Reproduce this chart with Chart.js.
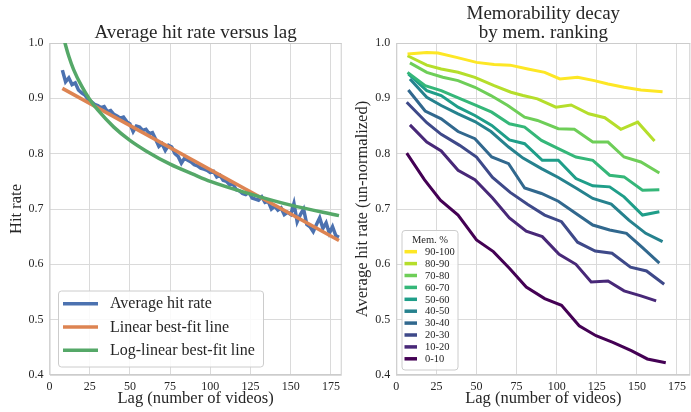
<!DOCTYPE html>
<html><head><meta charset="utf-8">
<script src="https://cdn.jsdelivr.net/npm/chart.js@4.4.0/dist/chart.umd.min.js"></script>
<style>
html,body{margin:0;padding:0;background:#fff;width:691px;height:412px;overflow:hidden}
#c1{position:absolute;left:0;top:0;width:345px;height:412px}
#c2{position:absolute;left:345px;top:0;width:346px;height:412px}
</style></head><body>
<canvas id="c1" width="345" height="412"></canvas>
<canvas id="c2" width="346" height="412"></canvas>
<script>
// ---------- data: left panel ----------
const hitLags = [8,10,12,14,16,18,20,22,24,26,28,30,32,34,36,38,40,42,44,46,48,50,52,54,56,58,60,62,64,66,68,70,72,74,76,78,80,82,84,86,88,90,92,94,96,98,100,102,104,106,108,110,112,114,116,118,120,122,124,126,128,130,132,134,136,138,140,142,144,146,148,150,152,154,156,158,160,162,164,166,168,170,172,174,176,178,180];
const hitRates = [0.951,0.930,0.937,0.925,0.928,0.915,0.910,0.906,0.898,0.894,0.889,0.887,0.883,0.885,0.876,0.878,0.871,0.868,0.864,0.866,0.858,0.854,0.840,0.850,0.848,0.842,0.844,0.836,0.838,0.826,0.813,0.818,0.806,0.815,0.812,0.800,0.795,0.783,0.792,0.788,0.785,0.780,0.778,0.774,0.772,0.770,0.766,0.768,0.758,0.761,0.752,0.750,0.744,0.746,0.735,0.733,0.728,0.726,0.730,0.720,0.718,0.716,0.722,0.712,0.714,0.700,0.705,0.698,0.702,0.690,0.694,0.690,0.710,0.677,0.690,0.700,0.672,0.668,0.659,0.672,0.684,0.665,0.675,0.656,0.668,0.652,0.649];
const linLags = [8, 180];
const linRates = [0.918, 0.643];
const logLags = [8,10,12,15,20,25,30,40,50,60,75,90,100,125,150,180];
const logRates = [1.019,0.996,0.976,0.952,0.922,0.898,0.879,0.848,0.824,0.805,0.781,0.762,0.750,0.727,0.707,0.688];
const leftSeriesNames = ['Average hit rate','Linear best-fit line','Log-linear best-fit line'];

// ---------- data: right panel ----------
const groups = ['0-10','10-20','20-30','30-40','40-50','50-60','60-70','70-80','80-90','90-100'];
const lag0_10   = [6.5,17.5,27.5,38.5,50,60.5,70.5,81,92.5,103,114,124.5,135,146.5,156.5,168];
const hr0_10    = [0.801,0.753,0.716,0.689,0.644,0.623,0.593,0.559,0.538,0.526,0.489,0.471,0.459,0.444,0.429,0.422];
const lag10_20  = [8.5,19,28,38.5,49,60,70.5,81,91,101.5,112,121.5,132,142,152.5,162];
const hr10_20   = [0.852,0.821,0.805,0.770,0.753,0.720,0.684,0.660,0.650,0.618,0.600,0.568,0.570,0.552,0.543,0.534];
const lag20_30  = [6.5,19,28,39.5,50,60,71,82,92.5,103,113,124,134.5,146,156,167];
const hr20_30   = [0.893,0.856,0.835,0.815,0.794,0.757,0.730,0.708,0.689,0.677,0.640,0.624,0.620,0.595,0.588,0.564];
const lag30_40  = [7.5,18,28,38.5,49,59.5,70,80,90.5,101,112,122.5,133,143.5,153.5,164];
const hr30_40   = [0.915,0.877,0.863,0.840,0.827,0.794,0.782,0.738,0.728,0.714,0.692,0.671,0.662,0.656,0.630,0.602];
const lag40_50  = [8.5,19,28,38.5,49,59,70,79,90.5,101,112,122.5,134,145,155.5,166];
const hr40_50   = [0.935,0.902,0.887,0.872,0.858,0.840,0.812,0.792,0.773,0.757,0.738,0.719,0.709,0.680,0.656,0.641];
const lag50_60  = [7.5,19,28,38.5,49,59.5,70.5,80,91,101,112,122.5,133,142,153.5,164];
const hr50_60   = [0.944,0.914,0.905,0.884,0.869,0.851,0.825,0.818,0.788,0.788,0.755,0.742,0.740,0.722,0.689,0.695];
const lag60_70  = [7,18,28,37.5,49,59.5,70.5,80,90.5,101,112,122.5,133,142,153.5,164];
const hr60_70   = [0.947,0.923,0.914,0.902,0.888,0.875,0.854,0.848,0.824,0.809,0.794,0.788,0.761,0.758,0.734,0.735];
const lag70_80  = [8.5,19,29,38.5,49,59,69.5,80,88,101,111,122.5,132,142,152.5,164];
const hr70_80   = [0.964,0.947,0.938,0.932,0.920,0.905,0.887,0.866,0.860,0.845,0.844,0.821,0.821,0.794,0.785,0.765];
const lag80_90  = [7,19,28,38.5,49,61,71.5,79,88,99.5,109,120,130,140,150.5,161];
const hr80_90   = [0.977,0.960,0.953,0.947,0.938,0.923,0.911,0.905,0.899,0.884,0.888,0.872,0.865,0.844,0.857,0.823];
const lag90_100 = [7,19,26,37.5,50,61,71,82,92.5,102,113,123.5,132,142,152.5,166];
const hr90_100  = [0.980,0.983,0.982,0.974,0.965,0.961,0.960,0.953,0.947,0.935,0.938,0.932,0.926,0.920,0.915,0.912];
const groupLags  = [lag0_10,lag10_20,lag20_30,lag30_40,lag40_50,lag50_60,lag60_70,lag70_80,lag80_90,lag90_100];
const groupRates = [hr0_10,hr10_20,hr20_30,hr30_40,hr40_50,hr50_60,hr60_70,hr70_80,hr80_90,hr90_100];

// ---------- ticks & titles ----------
const xTicks = [0,25,50,75,100,125,150,175];
const yTicks = [0.4,0.5,0.6,0.7,0.8,0.9,1.0];
const leftTitle = ['Average hit rate versus lag'];
const rightTitle = ['Memorability decay','by mem. ranking'];

// ---------- style ----------
const FONT = "'Liberation Serif','Times New Roman',serif";
const TXT = '#262626';
const GRID = '#dadada';
const leftColors = ['#4C72B0','#DD8452','#55A868'];
const viridis = ['#440154','#482878','#3e4989','#31688e','#26828e','#1f9e89','#35b779','#6ece58','#b5de2b','#fde725'];

function pts(xs, ys){ return xs.map((x,i)=>({x:x, y:ys[i]})); }

function roundRect(ctx,x,y,w,h,r){
  ctx.beginPath();
  ctx.moveTo(x+r,y); ctx.lineTo(x+w-r,y); ctx.quadraticCurveTo(x+w,y,x+w,y+r);
  ctx.lineTo(x+w,y+h-r); ctx.quadraticCurveTo(x+w,y+h,x+w-r,y+h);
  ctx.lineTo(x+r,y+h); ctx.quadraticCurveTo(x,y+h,x,y+h-r);
  ctx.lineTo(x,y+r); ctx.quadraticCurveTo(x,y,x+r,y); ctx.closePath();
}

const frame = {
  id:'frame',
  beforeDatasetsDraw(chart){
    const a = chart.chartArea, ctx = chart.ctx;
    ctx.save(); ctx.strokeStyle = '#cccccc'; ctx.lineWidth = 1;
    ctx.strokeRect(a.left+0.5, a.top+0.5, a.right-a.left-1, a.bottom-a.top-1);
    ctx.restore();
  }
};

// title centred over the plotting area (as matplotlib does)
const areaTitle = {
  id:'areaTitle',
  afterDraw(chart, args, o){
    if(!o || !o.lines) return;
    const a = chart.chartArea, ctx = chart.ctx;
    ctx.save();
    ctx.font = o.size + 'px ' + FONT; ctx.fillStyle = TXT;
    ctx.textAlign = 'center'; ctx.textBaseline = 'middle';
    o.lines.forEach((t,i)=> ctx.fillText(t, (a.left+a.right)/2, o.y0 + i*o.dy));
    ctx.restore();
  }
};

const boxLegend = {
  id:'boxLegend',
  afterDatasetsDraw(chart, args, o){
    if(!o || !o.show) return;
    const ctx = chart.ctx;
    ctx.save();
    roundRect(ctx,o.x,o.y,o.w,o.h,3);
    ctx.fillStyle='rgba(255,255,255,0.85)'; ctx.fill();
    ctx.strokeStyle='#cccccc'; ctx.lineWidth=1; ctx.stroke();
    ctx.textBaseline='middle';
    if(o.title){
      ctx.font = o.fontSize + 'px ' + FONT; ctx.fillStyle = TXT; ctx.textAlign='center';
      ctx.fillText(o.title, o.x + o.w/2, o.titleY);
    }
    ctx.textAlign='left';
    o.order.forEach((di,i)=>{
      const ds = chart.data.datasets[di];
      const y = o.rowY + i*o.rowH;
      ctx.strokeStyle = ds.borderColor; ctx.lineWidth = o.lw; ctx.lineCap='butt';
      ctx.beginPath(); ctx.moveTo(o.sx0,y); ctx.lineTo(o.sx1,y); ctx.stroke();
      ctx.fillStyle = TXT; ctx.font = o.fontSize + 'px ' + FONT;
      ctx.fillText(ds.label, o.tx, y+0.5);
    });
    ctx.restore();
  }
};

function scales(xmax, yTitle, yWidth, yTitlePad){
  return {
    x:{
      type:'linear', min:0, max:xmax,
      afterBuildTicks: s => { s.ticks = xTicks.map(v=>({value:v})); },
      ticks:{ font:{family:FONT,size:12}, color:TXT, padding:5, maxRotation:0, autoSkip:false, callback:v=>String(v) },
      grid:{ color:GRID, lineWidth:1, drawTicks:false },
      border:{ display:false },
      title:{ display:true, text:'Lag (number of videos)', font:{family:FONT,size:16.5}, color:TXT, padding:{top:2,bottom:3} },
      afterFit: s => { s.height = 37; }
    },
    y:{
      type:'linear', min:0.4, max:1.0,
      afterBuildTicks: s => { s.ticks = yTicks.map(v=>({value:v})); },
      ticks:{ font:{family:FONT,size:12}, color:TXT, padding:6, callback:v=>v.toFixed(1) },
      grid:{ color:GRID, lineWidth:1, drawTicks:false },
      border:{ display:false },
      title:{ display:true, text:yTitle, font:{family:FONT,size:16.5}, color:TXT, padding:{top:yTitlePad,bottom:0} },
      afterFit: s => { s.width = yWidth; }
    }
  };
}

Chart.defaults.font.family = FONT;

// ---------- left chart ----------
new Chart(document.getElementById('c1'), {
  type:'line',
  data:{ datasets:[
    { label:leftSeriesNames[0], data:pts(hitLags,hitRates), borderColor:leftColors[0], borderWidth:3.5, pointRadius:0, tension:0, order:3 },
    { label:leftSeriesNames[1], data:pts(linLags,linRates), borderColor:leftColors[1], borderWidth:3.5, pointRadius:0, tension:0, order:2 },
    { label:leftSeriesNames[2], data:pts(logLags,logRates), borderColor:leftColors[2], borderWidth:3.5, pointRadius:0, tension:0.4, cubicInterpolationMode:'monotone', order:1 }
  ]},
  options:{
    responsive:false, animation:false, devicePixelRatio:1,
    layout:{ padding:{left:0,right:1.5,top:43,bottom:0} },
    scales: scales(181.7,'Hit rate',49.5,6.5),
    plugins:{
      legend:{display:false}, tooltip:{enabled:false}, title:{display:false},
      areaTitle:{ lines:leftTitle, size:19, y0:33, dy:0 },
      boxLegend:{ show:true, x:58.5, y:291, w:205, h:76, title:null, order:[0,1,2],
        rowY:303.7, rowH:23.3, sx0:63, sx1:98, tx:110, lw:3.5, fontSize:16 }
    }
  },
  plugins:[frame, boxLegend, areaTitle]
});

// ---------- right chart ----------
const rightSets = groups.map((g,i)=>({
  label:g, data:pts(groupLags[i],groupRates[i]), borderColor:viridis[i], borderWidth:3,
  pointRadius:0, tension:0, order:10-i
}));
new Chart(document.getElementById('c2'), {
  type:'line',
  data:{ datasets:rightSets },
  options:{
    responsive:false, animation:false, devicePixelRatio:1,
    layout:{ padding:{left:0,right:0,top:43,bottom:0} },
    scales: scales(183.3,'Average hit rate (un-normalized)',51.3,8),
    plugins:{
      legend:{display:false}, tooltip:{enabled:false}, title:{display:false},
      areaTitle:{ lines:rightTitle, size:19, y0:14, dy:19.5 },
      boxLegend:{ show:true, x:57, y:230.5, w:56, h:139.5, title:'Mem. %', titleY:240,
        order:[9,8,7,6,5,4,3,2,1,0], rowY:251.7, rowH:11.9, sx0:59.5, sx1:72, tx:80, lw:3.5, fontSize:10.5 }
    }
  },
  plugins:[frame, boxLegend, areaTitle]
});
</script></body></html>
